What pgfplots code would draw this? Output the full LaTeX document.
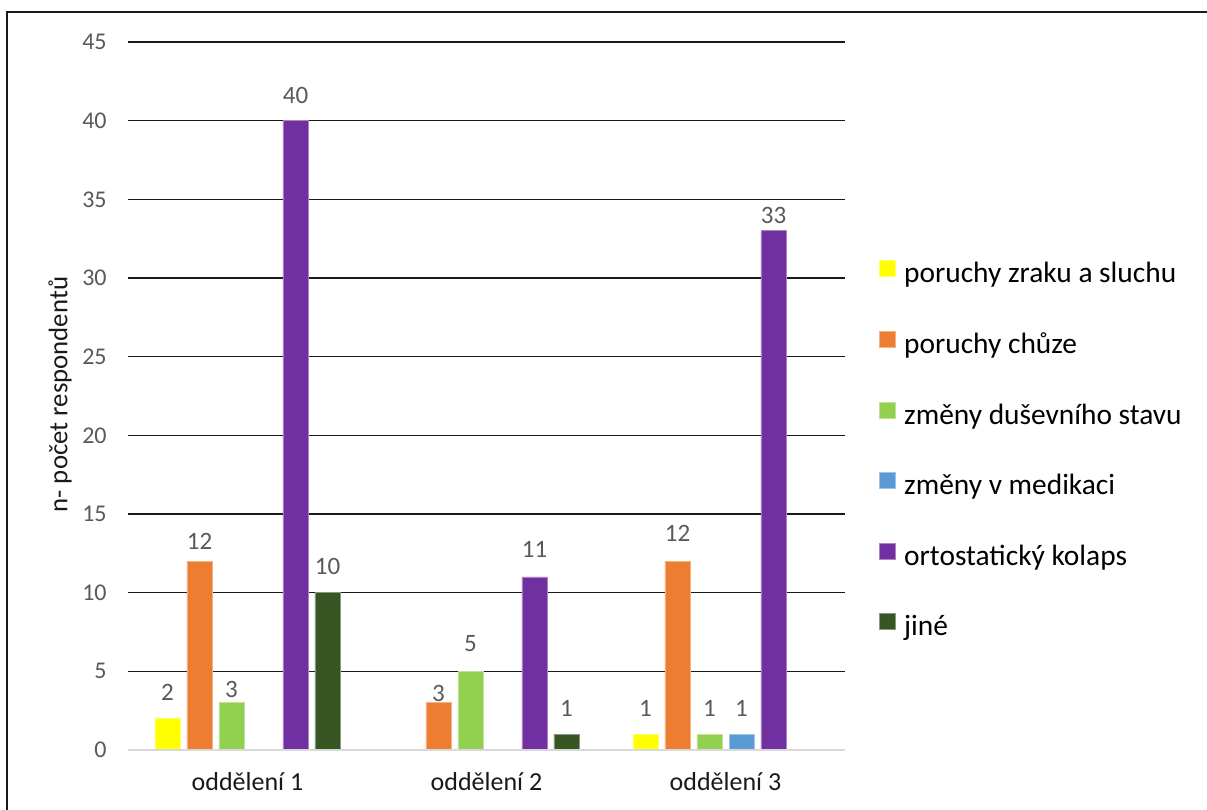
\documentclass[border=0pt]{standalone}
\usepackage{pgfplots}
\usepackage{pgfplotstable}
\pgfplotsset{compat=1.18}
\usepackage{fontspec}
\setmainfont{Carlito}

\definecolor{cYellow}{HTML}{FFFF00}
\definecolor{cOrange}{HTML}{ED7D31}
\definecolor{cGreen}{HTML}{92D050}
\definecolor{cBlue}{HTML}{5B9BD5}
\definecolor{cPurple}{HTML}{7030A0}
\definecolor{cDark}{HTML}{375623}
\definecolor{labelgray}{HTML}{595959}
\definecolor{axisgray}{HTML}{D9D9D9}

% x = department (0,1,2), y = count, gap = distance of the value label above the bar (pt)
\pgfplotstableread{
x y  gap
0 2  9
2 1  8.5
}\sight
\pgfplotstableread{
x y  gap
0 12 5.5
1 3  0.5
2 12 9.5
}\walk
\pgfplotstableread{
x y  gap
0 3  2.5
1 5  9.5
2 1  8.5
}\mental
\pgfplotstableread{
x y  gap
2 1  8.5
}\medic
\pgfplotstableread{
x y  gap
0 40 8.5
1 11 9.5
2 33 3.5
}\ortho
\pgfplotstableread{
x y  gap
0 10 9
1 1  8.5
}\other

\begin{document}
\begin{tikzpicture}
\useasboundingbox (0,0) rectangle (603.5pt,405pt);
% outer frame (left and top edges)
\draw[line width=1pt, black!90] (3.5pt,0) -- (3.5pt,399pt) -- (603.5pt,399pt);

\begin{axis}[
  at={(64pt,30pt)}, anchor=south west,
  scale only axis,
  width=358.5pt, height=354pt,
  xmin=-0.5, xmax=2.5,
  ymin=0, ymax=45,
  xtick={0,1,2},
  xticklabels={oddělení 1, oddělení 2, oddělení 3},
  ytick={5,10,...,45},
  extra y ticks={0},
  extra y tick style={grid=none},
  ymajorgrids,
  grid style={line width=0.75pt, black!90},
  axis line style={draw=none},
  tick style={draw=none},
  /pgf/number format/assume math mode=true,
  yticklabel style={font=\fontsize{12}{14}\selectfont, text=labelgray, inner sep=0pt},
  yticklabel shift=10.5pt,
  xticklabel style={font=\fontsize{13}{15}\selectfont, text=black!90, inner sep=0pt, anchor=north},
  xticklabel shift=7pt,
  every axis y label/.style={at={(axis description cs:-0.0948,0.502)}, rotate=90, anchor=center},
  ylabel={n- počet respondentů},
  ylabel style={font=\fontsize{13.4}{15}\selectfont, text=black!90},
  ybar,
  bar width=12.5pt,
  visualization depends on={\thisrow{gap} \as \lblgap},
  nodes near coords,
  every node near coord/.append style={font=\fontsize{12.5}{14}\selectfont, text=labelgray, anchor=south, inner sep=0pt, yshift=\lblgap pt},
  legend style={
    at={(1.0474,0.692)}, anchor=north west,
    draw=none, fill=none, inner sep=0pt,
    font=\fontsize{14.7}{17}\selectfont,
    nodes={inner sep=0pt, text height=9pt, text depth=3pt},
    column sep=4pt, row sep=21.1pt,
    legend cell align=left,
  },
  legend image code/.code={\fill[#1] (0pt,0pt) rectangle (8pt,8pt);},
]
\addplot[fill=cYellow, draw=cYellow!60, bar shift=-40pt] table[x=x, y=y] {\sight};
\addlegendentry{poruchy zraku a sluchu}
\addplot[fill=cOrange, draw=cOrange!60, bar shift=-24pt] table[x=x, y=y] {\walk};
\addlegendentry{poruchy chůze}
\addplot[fill=cGreen, draw=cGreen!60, bar shift=-8pt] table[x=x, y=y] {\mental};
\addlegendentry{změny duševního stavu}
\addplot[fill=cBlue, draw=cBlue!60, bar shift=8pt] table[x=x, y=y] {\medic};
\addlegendentry{změny v medikaci}
\addplot[fill=cPurple, draw=cPurple!60, bar shift=24pt] table[x=x, y=y] {\ortho};
\addlegendentry{ortostatický kolaps}
\addplot[fill=cDark, draw=cDark!60, bar shift=40pt] table[x=x, y=y] {\other};
\addlegendentry{jiné}
% category axis line
\draw[axisgray, line width=0.75pt] (axis cs:-0.5,0) -- (axis cs:2.5,0);
\end{axis}
\end{tikzpicture}
\end{document}
